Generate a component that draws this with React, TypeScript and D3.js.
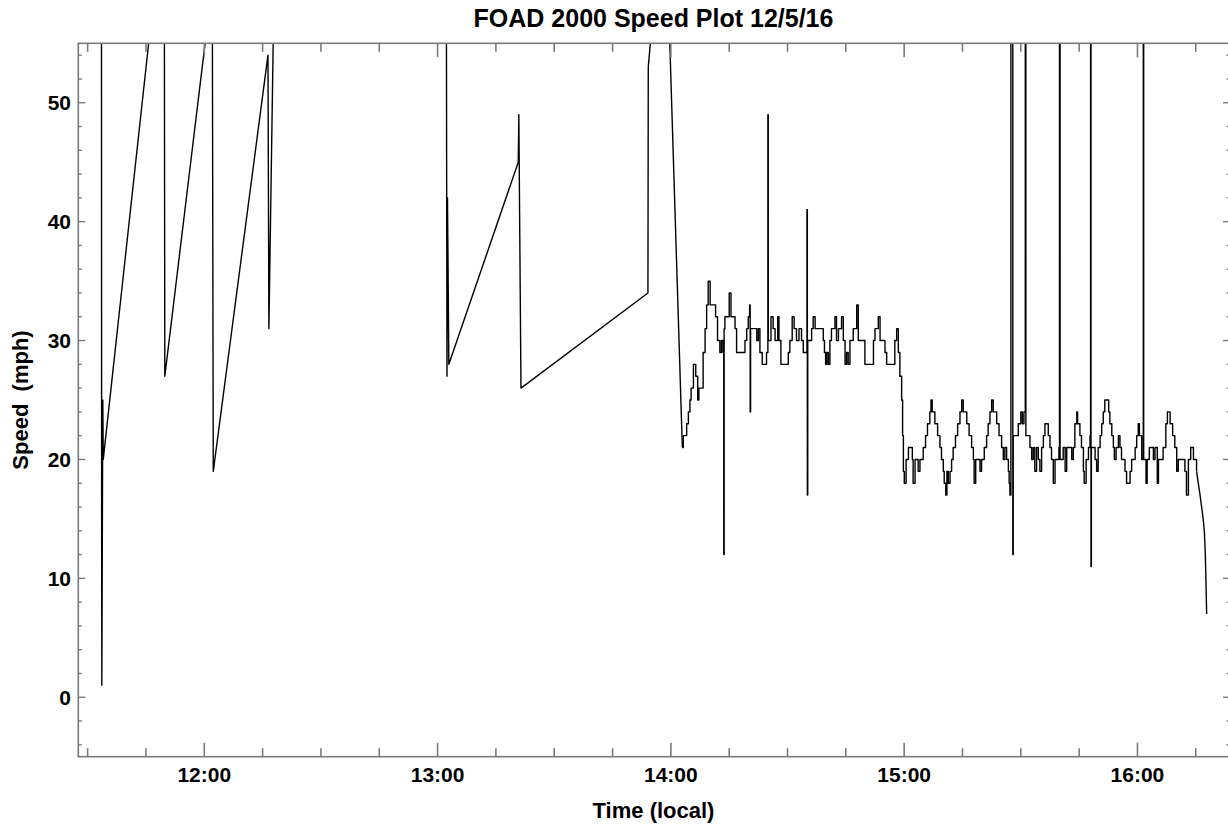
import React from "react";
import * as d3 from "d3";

// Time is given in minutes after 12:00 local (12/5/16), speed in mph.
const earlyRun: [number, number][] = [
  [-26.45, 75], [-26.4, 15], [-26.35, 1], [-26.1, 25], [-25.98, 20],
  [-10.3, 67], [-10.15, 27], [2.06, 60], [2.31, 19], [16.38, 54],
  [16.62, 31], [18.5, 72], [62.2, 72], [62.42, 27], [62.55, 42],
  [62.9, 28], [80.75, 45], [80.9, 49], [81.45, 26], [114.1, 34],
  [114.19, 53], [118.4, 69], [122.95, 21],
];

const run1400: [number, number][] = [
  [122.95, 21], [123.2, 22], [124.06, 23], [124.5, 24], [124.9, 25], [125.2, 26],
  [125.8, 28], [126.4, 27], [126.9, 25], [127.2, 26], [127.7, 26], [128.3, 29],
  [128.8, 31], [129.2, 33], [129.6, 35], [130.1, 33], [131.2, 33], [131.5, 32],
  [132.0, 30], [132.6, 29], [133.0, 30], [133.4, 29], [133.6, 12], [133.7, 31],
  [133.9, 32], [134.6, 32], [135.0, 34], [135.46, 32], [136.06, 32], [136.5, 31],
  [136.9, 29], [138.6, 29], [139.06, 30], [139.5, 31], [139.9, 32], [140.25, 33],
  [140.4, 24], [140.5, 31], [141.6, 31], [142.1, 30], [142.5, 31], [142.9, 29],
  [143.5, 28], [144.2, 28], [144.6, 29], [144.95, 49], [145.05, 30], [145.75, 32],
  [146.3, 31], [146.8, 30], [147.5, 32], [147.8, 30], [148.3, 28], [149.8, 28],
  [150.2, 29], [150.6, 30], [151.2, 32], [151.7, 31], [152.3, 30], [152.95, 31],
  [153.6, 30], [154.06, 29], [154.66, 29], [155.0, 41], [155.1, 17], [155.2, 30],
  [156.2, 31], [156.6, 32], [157.1, 31], [158.8, 31], [159.2, 30], [159.5, 29],
  [159.8, 28], [160.1, 29], [160.5, 28], [160.9, 30], [161.3, 31], [162.2, 32],
  [162.6, 30], [163.1, 31], [163.9, 32], [164.35, 30], [164.8, 28], [165.2, 29],
  [165.6, 28], [166.05, 30], [166.9, 31], [167.35, 31], [167.8, 33], [168.2, 30],
  [169.5, 30], [169.9, 28], [171.6, 28], [172.1, 30], [172.5, 31], [173.35, 32],
  [173.8, 30], [174.6, 30], [175.07, 29], [175.5, 28], [177.2, 28], [177.6, 30],
  [178.07, 31], [178.5, 29], [178.9, 27], [179.35, 25], [179.6, 22], [179.8, 19],
  [180.03, 18],
];

const run1500: [number, number][] = [
  [180.5, 20], [181.1, 21], [181.7, 21], [182.1, 20], [182.3, 18], [182.8, 20],
  [183.2, 20], [183.6, 19], [184.06, 20], [184.5, 20], [184.9, 21], [185.5, 22],
  [186.0, 23], [186.6, 24], [186.9, 25], [187.2, 24], [187.9, 23], [188.6, 22],
  [189.2, 21], [189.6, 20], [190.06, 19], [190.3, 18], [190.7, 17], [191.0, 19],
  [191.35, 18], [191.8, 19], [192.2, 20], [192.6, 21], [193.2, 22], [193.75, 23],
  [194.35, 24], [194.8, 25], [195.2, 24], [196.1, 23], [196.7, 22], [197.35, 21],
  [197.8, 20], [198.0, 18], [198.4, 20], [199.06, 20], [199.5, 19], [199.9, 20],
  [200.6, 21], [201.2, 22], [201.6, 23], [202.06, 24], [202.5, 25], [202.9, 24],
  [203.8, 23], [204.4, 22], [205.06, 21], [205.5, 20], [205.9, 21], [206.35, 20],
  [206.8, 19], [207.0, 18], [207.2, 17], [207.45, 75], [207.95, 12], [208.05, 22],
  [208.7, 22], [209.35, 23], [210.0, 24], [210.4, 23], [210.8, 24], [211.15, 75],
  [211.3, 22], [211.9, 22], [212.35, 21], [212.8, 20], [213.2, 21], [213.6, 19],
  [214.06, 21], [214.5, 20], [214.9, 19], [215.35, 21], [215.8, 22], [216.2, 23],
  [216.6, 23], [217.06, 22], [217.5, 21], [217.9, 20], [218.35, 18], [218.8, 20],
  [219.5, 20], [219.8, 21], [219.95, 75], [220.1, 20], [220.9, 21], [221.4, 19],
  [221.8, 21], [222.7, 21], [223.1, 20], [223.5, 21], [223.9, 23], [224.4, 24],
  [224.6, 23], [225.2, 22], [225.6, 21], [226.1, 19], [226.3, 18], [226.8, 20],
  [227.4, 21], [227.8, 22], [227.95, 75], [228.05, 11], [228.15, 21], [228.6, 21],
  [229.1, 20], [229.5, 19], [229.9, 21], [230.4, 22], [230.8, 23], [231.2, 24],
  [231.6, 25], [232.2, 25], [232.6, 24], [232.9, 23], [233.4, 22], [233.8, 21],
  [234.06, 20], [234.5, 21], [235.1, 22], [235.5, 21], [235.9, 20], [236.4, 20],
  [236.8, 19], [237.2, 18], [237.6, 18], [238.1, 19], [238.5, 20], [238.9, 20],
  [239.4, 21], [239.8, 22], [240.2, 23], [240.5, 22], [241.1, 20], [241.5, 75],
  [241.6, 20], [242.2, 18], [242.5, 20], [243.05, 21], [243.6, 21], [244.1, 20],
  [244.5, 21], [245.1, 18], [245.4, 20], [246.2, 20], [246.6, 21], [247.3, 23],
  [247.7, 24], [248.4, 23], [249.05, 22], [249.6, 21], [250.1, 19], [250.5, 20],
  [251.8, 20], [252.2, 19], [252.6, 17], [253.1, 20], [253.7, 21], [254.4, 20],
  [254.8, 20], [255.2, 19],
];

const finalRun: [number, number][] = [
  [255.2, 19], [255.65, 18], [256.1, 17], [256.5, 16], [256.9, 15], [257.2, 14],
  [257.45, 12], [257.6, 10], [257.8, 7],
];

const yMajorTicks = [0, 10, 20, 30, 40, 50];
const titleText = "FOAD 2000 Speed Plot 12/5/16";
const xLabel = "Time (local)";
const yLabel = "Speed  (mph)";

const baseTime = new Date(2016, 11, 5, 12, 0, 0).getTime();
const toDate = (m: number) => new Date(baseTime + m * 60000);

export default function App() {
  const W = 1228;
  const H = 824;
  const left = 78.3;
  const right = 1230;
  const top = 43.3;
  const bottom = 756.7;

  const x = d3.scaleTime().domain([toDate(-32.4), toDate(263.8)]).range([left, right]);
  const y = d3.scaleLinear().domain([-5, 55]).range([bottom, top]);

  const linear = d3
    .line<[number, number]>()
    .x((d) => x(toDate(d[0])))
    .y((d) => y(d[1]));
  const stepped = d3
    .line<[number, number]>()
    .x((d) => x(toDate(d[0])))
    .y((d) => y(d[1]))
    .curve(d3.curveStepAfter);

  const xTicks = x.ticks(d3.timeMinute.every(15) as any);
  const yTicks = d3.range(-4, 55, 2);
  const fmt = d3.timeFormat("%H:%M");
  const frameColor = "#7a7a7a";
  const font = "'Liberation Sans', Arial, sans-serif";
  const lineProps = {
    fill: "none",
    stroke: "#000",
    strokeWidth: 1.4,
    strokeLinejoin: "round" as const,
    clipPath: "url(#plotClip)",
  };

  return (
    <svg
      width={W}
      height={H}
      style={{ position: "absolute", left: 0, top: 0, background: "#fff" }}
      fontFamily={font}
    >
      <defs>
        <clipPath id="plotClip">
          <rect x={left} y={top} width={right - left} height={bottom - top} />
        </clipPath>
      </defs>
      <rect x={0} y={0} width={W} height={H} fill="#fff" />

      <path d={linear(earlyRun) || ""} {...lineProps} />
      <path d={stepped([...run1400, ...run1500]) || ""} {...lineProps} />
      <path d={linear(finalRun) || ""} {...lineProps} />

      {/* frame */}
      <rect x={left} y={top} width={right - left} height={bottom - top} fill="none" stroke={frameColor} strokeWidth={1.6} />

      {/* x ticks */}
      {xTicks.map((t, i) => {
        const major = t.getMinutes() === 0;
        const len = major ? 14 : 8.5;
        const px = x(t);
        return (
          <g key={"xt" + i}>
            <line x1={px} x2={px} y1={bottom} y2={bottom - len} stroke={frameColor} strokeWidth={1.6} />
            <line x1={px} x2={px} y1={top} y2={top + len} stroke={frameColor} strokeWidth={1.6} />
            {major && (
              <text x={px} y={781.5} textAnchor="middle" fontSize={21} fontWeight="bold" fill="#000">
                {fmt(t)}
              </text>
            )}
          </g>
        );
      })}

      {/* y ticks */}
      {yTicks.map((v) => {
        const major = v % 10 === 0;
        const len = major ? 7 : 3.5;
        const py = y(v);
        return (
          <g key={"yt" + v}>
            <line x1={left} x2={left + len} y1={py} y2={py} stroke={frameColor} strokeWidth={1.4} />
            <line x1={right} x2={right - len} y1={py} y2={py} stroke={frameColor} strokeWidth={1.4} />
          </g>
        );
      })}
      {yMajorTicks.map((v) => (
        <text key={"yl" + v} x={71} y={y(v)} dy="0.36em" textAnchor="end" fontSize={21} fontWeight="bold" fill="#000">
          {v}
        </text>
      ))}

      <text x={653.5} y={26.5} textAnchor="middle" fontSize={25} fontWeight="bold" fill="#000">
        {titleText}
      </text>
      <text x={653.5} y={818} textAnchor="middle" fontSize={22} fontWeight="bold" fill="#000">
        {xLabel}
      </text>
      <text
        transform={`translate(28,${(top + bottom) / 2}) rotate(-90)`}
        textAnchor="middle"
        fontSize={22}
        fontWeight="bold"
        fill="#000"
        style={{ whiteSpace: "pre" }}
      >
        {yLabel}
      </text>
    </svg>
  );
}
